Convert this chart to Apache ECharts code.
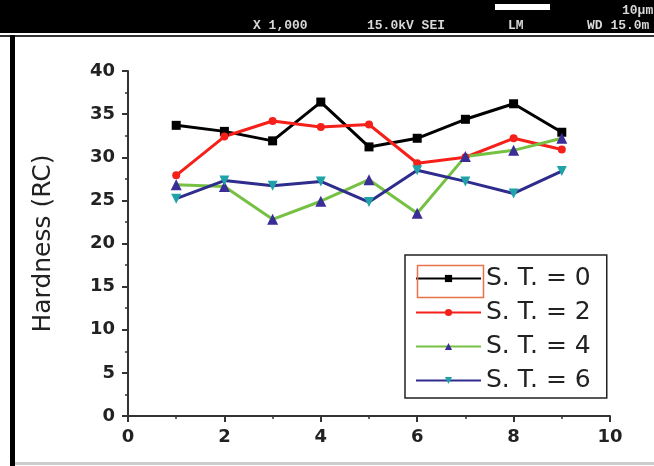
<!DOCTYPE html>
<html>
<head>
<meta charset="utf-8">
<script src="https://cdn.jsdelivr.net/npm/echarts@6/dist/echarts.min.js"></script>
<style>html,body{margin:0;padding:0;background:#fff;}#c{width:654px;height:466px;}</style>
</head>
<body>
<div id="c"></div>
<script>
var xValues = [1, 2, 3, 4, 5, 6, 7, 8, 9];
var st0 = [33.7, 33.0, 31.9, 36.4, 31.2, 32.2, 34.4, 36.2, 32.9];
var st2 = [27.9, 32.4, 34.2, 33.5, 33.8, 29.3, 30.0, 32.2, 30.9];
var st4 = [26.8, 26.6, 22.8, 24.9, 27.4, 23.5, 30.1, 30.8, 32.2];
var st6 = [25.2, 27.3, 26.7, 27.2, 24.8, 28.5, 27.2, 25.8, 28.4];
var seriesNames = ['S. T. = 0', 'S. T. = 2', 'S. T. = 4', 'S. T. = 6'];
var yTitle = 'Hardness (RC)';
var bandTexts = ['X 1,000', '15.0kV SEI', 'LM', 'WD 15.0m', '10\u03bcm'];

function pairs(arr) { return xValues.map(function (x, i) { return [x, arr[i]]; }); }

var chart = echarts.init(document.getElementById('c'), null, {renderer: 'canvas'});
var tickFont = {fontFamily: 'DejaVu Sans', fontWeight: 'bold', fontSize: 18, color: '#222'};
var monoText = function (t, x, y) {
  return {type: 'text', left: x, top: y, style: {text: t, fill: '#d8d8d8', font: 'bold 13px "Liberation Mono"'}};
};

var option = {
  backgroundColor: '#fff',
  animation: false,
  grid: {left: 128, right: 44, top: 71, bottom: 50},
  xAxis: {
    type: 'value', min: 0, max: 10, interval: 2,
    axisLine: {lineStyle: {color: '#333', width: 2}},
    axisTick: {length: 6, lineStyle: {color: '#333', width: 2}},
    minorTick: {show: true, splitNumber: 2, length: 3, lineStyle: {color: '#333', width: 1.5}},
    splitLine: {show: false},
    axisLabel: Object.assign({margin: 12}, tickFont)
  },
  yAxis: {
    type: 'value', min: 0, max: 40, interval: 5,
    name: yTitle, nameLocation: 'middle', nameGap: 72,
    nameTextStyle: {fontFamily: 'DejaVu Sans', fontSize: 25, color: '#222'},
    axisLine: {show: true, lineStyle: {color: '#333', width: 2}},
    axisTick: {show: true, length: 6, lineStyle: {color: '#333', width: 2}},
    minorTick: {show: true, splitNumber: 2, length: 3, lineStyle: {color: '#333', width: 1.5}},
    splitLine: {show: false},
    axisLabel: Object.assign({margin: 13}, tickFont)
  },
  legend: {
    orient: 'vertical', left: 405, top: 255,
    width: 200,
    padding: [11, 16, 5, 10],
    itemGap: 9, itemWidth: 65, itemHeight: 9,
    borderColor: '#222', borderWidth: 1.5,
    backgroundColor: '#fff',
    textStyle: {fontFamily: 'DejaVu Sans', fontSize: 25, color: '#222'},
    data: seriesNames
  },
  series: [
    {name: seriesNames[0], type: 'line', data: pairs(st0), symbol: 'rect', symbolSize: 9,
     lineStyle: {color: '#000', width: 3}, itemStyle: {color: '#000'}},
    {name: seriesNames[1], type: 'line', data: pairs(st2), symbol: 'circle', symbolSize: 8,
     lineStyle: {color: '#f5201a', width: 3}, itemStyle: {color: '#f5201a'}},
    {name: seriesNames[2], type: 'line', data: pairs(st4), symbol: 'triangle', symbolSize: 11,
     lineStyle: {color: '#76c043', width: 3}, itemStyle: {color: '#3a2d96'}},
    {name: seriesNames[3], type: 'line', data: pairs(st6), symbol: 'triangle', symbolRotate: 180, symbolSize: 10,
     lineStyle: {color: '#2e2c8c', width: 3}, itemStyle: {color: '#1fa3a8'}}
  ],
  graphic: [
    {type: 'rect', left: 0, top: 0, shape: {width: 654, height: 33}, style: {fill: '#000'}},
    {type: 'rect', left: 0, top: 35, shape: {width: 654, height: 2}, style: {fill: '#333'}},
    {type: 'rect', left: 10, top: 35, shape: {width: 5, height: 431}, style: {fill: '#000'}},
    {type: 'rect', left: 15, top: 462, shape: {width: 639, height: 3}, style: {fill: '#ccc'}},
    {type: 'rect', left: 495, top: 4, shape: {width: 55, height: 6}, style: {fill: '#fff'}},
    monoText(bandTexts[0], 253, 19),
    monoText(bandTexts[1], 367, 19),
    monoText(bandTexts[2], 508, 19),
    monoText(bandTexts[3], 587, 19),
    monoText(bandTexts[4], 622, 4),
    {type: 'rect', left: 415, top: 263, z: 100, shape: {width: 66, height: 32},
     style: {fill: 'none', stroke: '#e8724a', lineWidth: 1.5}}
  ]
};
chart.setOption(option);
</script>
</body>
</html>
